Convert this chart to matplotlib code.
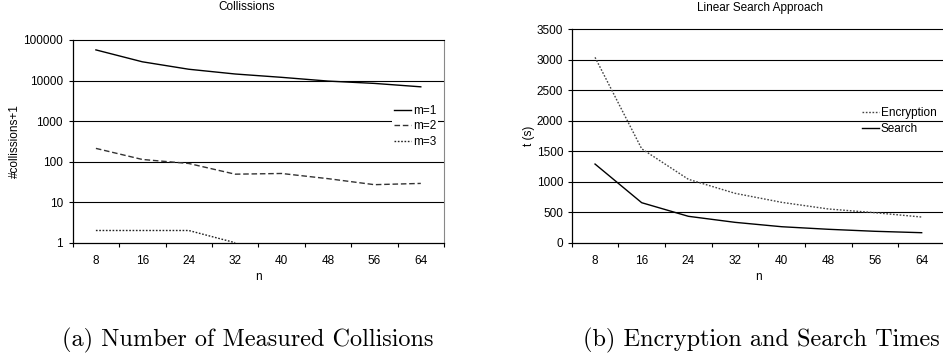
import numpy as np
import matplotlib
matplotlib.use("Agg")
import matplotlib.pyplot as plt

plt.rcParams['font.family'] = ['Liberation Sans', 'DejaVu Sans']
plt.rcParams['font.size'] = 8.5

# === DATOS ===
n_labels = ["8", "16", "24", "32", "40", "48", "56", "64"]

# (a) colisiones (+1), escala log
coll_m1 = [57000, 29000, 19000, 14500, 12000, 9700, 8500, 7000]
coll_m2 = [212, 113, 90, 49, 51, 38, 27, 29]
coll_m3 = [2, 2, 2, 1]  # solo visible hasta n=32
coll_yticks = [1, 10, 100, 1000, 10000, 100000]

# (b) tiempos (s)
t_encryption = [3040, 1540, 1040, 810, 662, 553, 492, 421]
t_search = [1290, 656, 433, 334, 262, 220, 187, 164]
t_yticks = [0, 500, 1000, 1500, 2000, 2500, 3000, 3500]

W, H = 943, 359
fig = plt.figure(figsize=(W / 100, H / 100), dpi=100)


def px(x0, y0, x1, y1):
    return [x0 / W, 1 - y1 / H, (x1 - x0) / W, (y1 - y0) / H]


def style_axes(ax, ypad):
    x = np.arange(len(n_labels))
    ax.set_xlim(-0.5, len(n_labels) - 0.5)
    ax.set_xticks(x)
    ax.set_xticklabels(n_labels)
    ax.set_xticks(np.arange(-0.5, len(n_labels)), minor=True)
    ax.tick_params(axis='x', which='major', length=0, pad=9)
    ax.tick_params(axis='x', which='minor', length=3.2, width=0.8, direction='out')
    ax.tick_params(axis='y', which='major', length=3.2, width=0.8, direction='out', pad=ypad)
    ax.tick_params(axis='y', which='minor', length=0)
    for s in ['left', 'bottom']:
        ax.spines[s].set_linewidth(0.9)
        ax.spines[s].set_color('black')
    ax.spines['top'].set_color('black')
    ax.spines['top'].set_linewidth(0.8)
    ax.spines['right'].set_color('#888888')
    ax.spines['right'].set_linewidth(0.8)


# === (a) Collissions ===
ax1 = fig.add_axes(px(72.7, 40, 444, 242.7))
x = np.arange(len(n_labels))
ax1.set_yscale('log')
for yv in coll_yticks[1:-1]:
    ax1.axhline(yv, color='black', lw=0.8, zorder=1)
ax1.plot(x, coll_m1, color='black', lw=1.0, ls='-', label='m=1', zorder=3)
ax1.plot(x, coll_m2, color='#333333', lw=1.0, ls=(0, (4, 2)), label='m=2', zorder=3)
ax1.plot(x[:len(coll_m3)], coll_m3, color='#222222', lw=1.0, ls=(0, (1.2, 1.2)),
         label='m=3', zorder=2)
ax1.set_ylim(1, 100000)
ax1.set_yticks(coll_yticks)
ax1.set_yticklabels([str(v) for v in coll_yticks])
ax1.yaxis.set_minor_locator(matplotlib.ticker.NullLocator())
style_axes(ax1, 3.8)
leg1 = ax1.legend(loc='upper left', bbox_to_anchor=(392 / W, 1 - 102.5 / H),
                  bbox_transform=fig.transFigure, borderaxespad=0, borderpad=0.2,
                  handlelength=1.4, handletextpad=0.15, labelspacing=0.3,
                  frameon=True, fancybox=False, edgecolor='none', framealpha=1)
leg1.set_zorder(5)
fig.text(247 / W, 1 - 7.5 / H, "Collissions", ha='center', va='center')
fig.text(15 / W, 1 - 141 / H, "#collissions+1", rotation=90, ha='center', va='center')
fig.text(258 / W, 1 - 277 / H, "n", ha='center', va='center')

# === (b) Linear Search Approach ===
ax2 = fig.add_axes(px(571.7, 29.3, 945, 242.7))
for yv in t_yticks[1:-1]:
    ax2.axhline(yv, color='black', lw=0.8, zorder=1)
ax2.plot(x, t_encryption, color='#444444', lw=1.0, ls=(0, (1.2, 1.2)), label='Encryption', zorder=3)
ax2.plot(x, t_search, color='black', lw=1.0, ls='-', label='Search', zorder=3)
ax2.set_ylim(0, 3500)
ax2.set_yticks(t_yticks)
style_axes(ax2, 2.9)
ax2.legend(loc='upper left', bbox_to_anchor=(860 / W, 1 - 104.8 / H),
           bbox_transform=fig.transFigure, borderaxespad=0, borderpad=0.2,
           handlelength=1.38, handletextpad=0.17, labelspacing=0.3, frameon=False)
fig.text(760 / W, 1 - 7.5 / H, "Linear Search Approach", ha='center', va='center')
fig.text(529 / W, 1 - 136 / H, "t (s)", rotation=90, ha='center', va='center')
fig.text(758.7 / W, 1 - 277 / H, "n", ha='center', va='center')

# === Leyendas de figura ===
fig.text(247.5 / W, 1 - 340 / H, "(a) Number of Measured Collisions",
         ha='center', va='center', family='cmr10', fontsize=17.5)
fig.text(761 / W, 1 - 340 / H, "(b) Encryption and Search Times",
         ha='center', va='center', family='cmr10', fontsize=17.5)

fig.savefig("out.png", dpi=100)
